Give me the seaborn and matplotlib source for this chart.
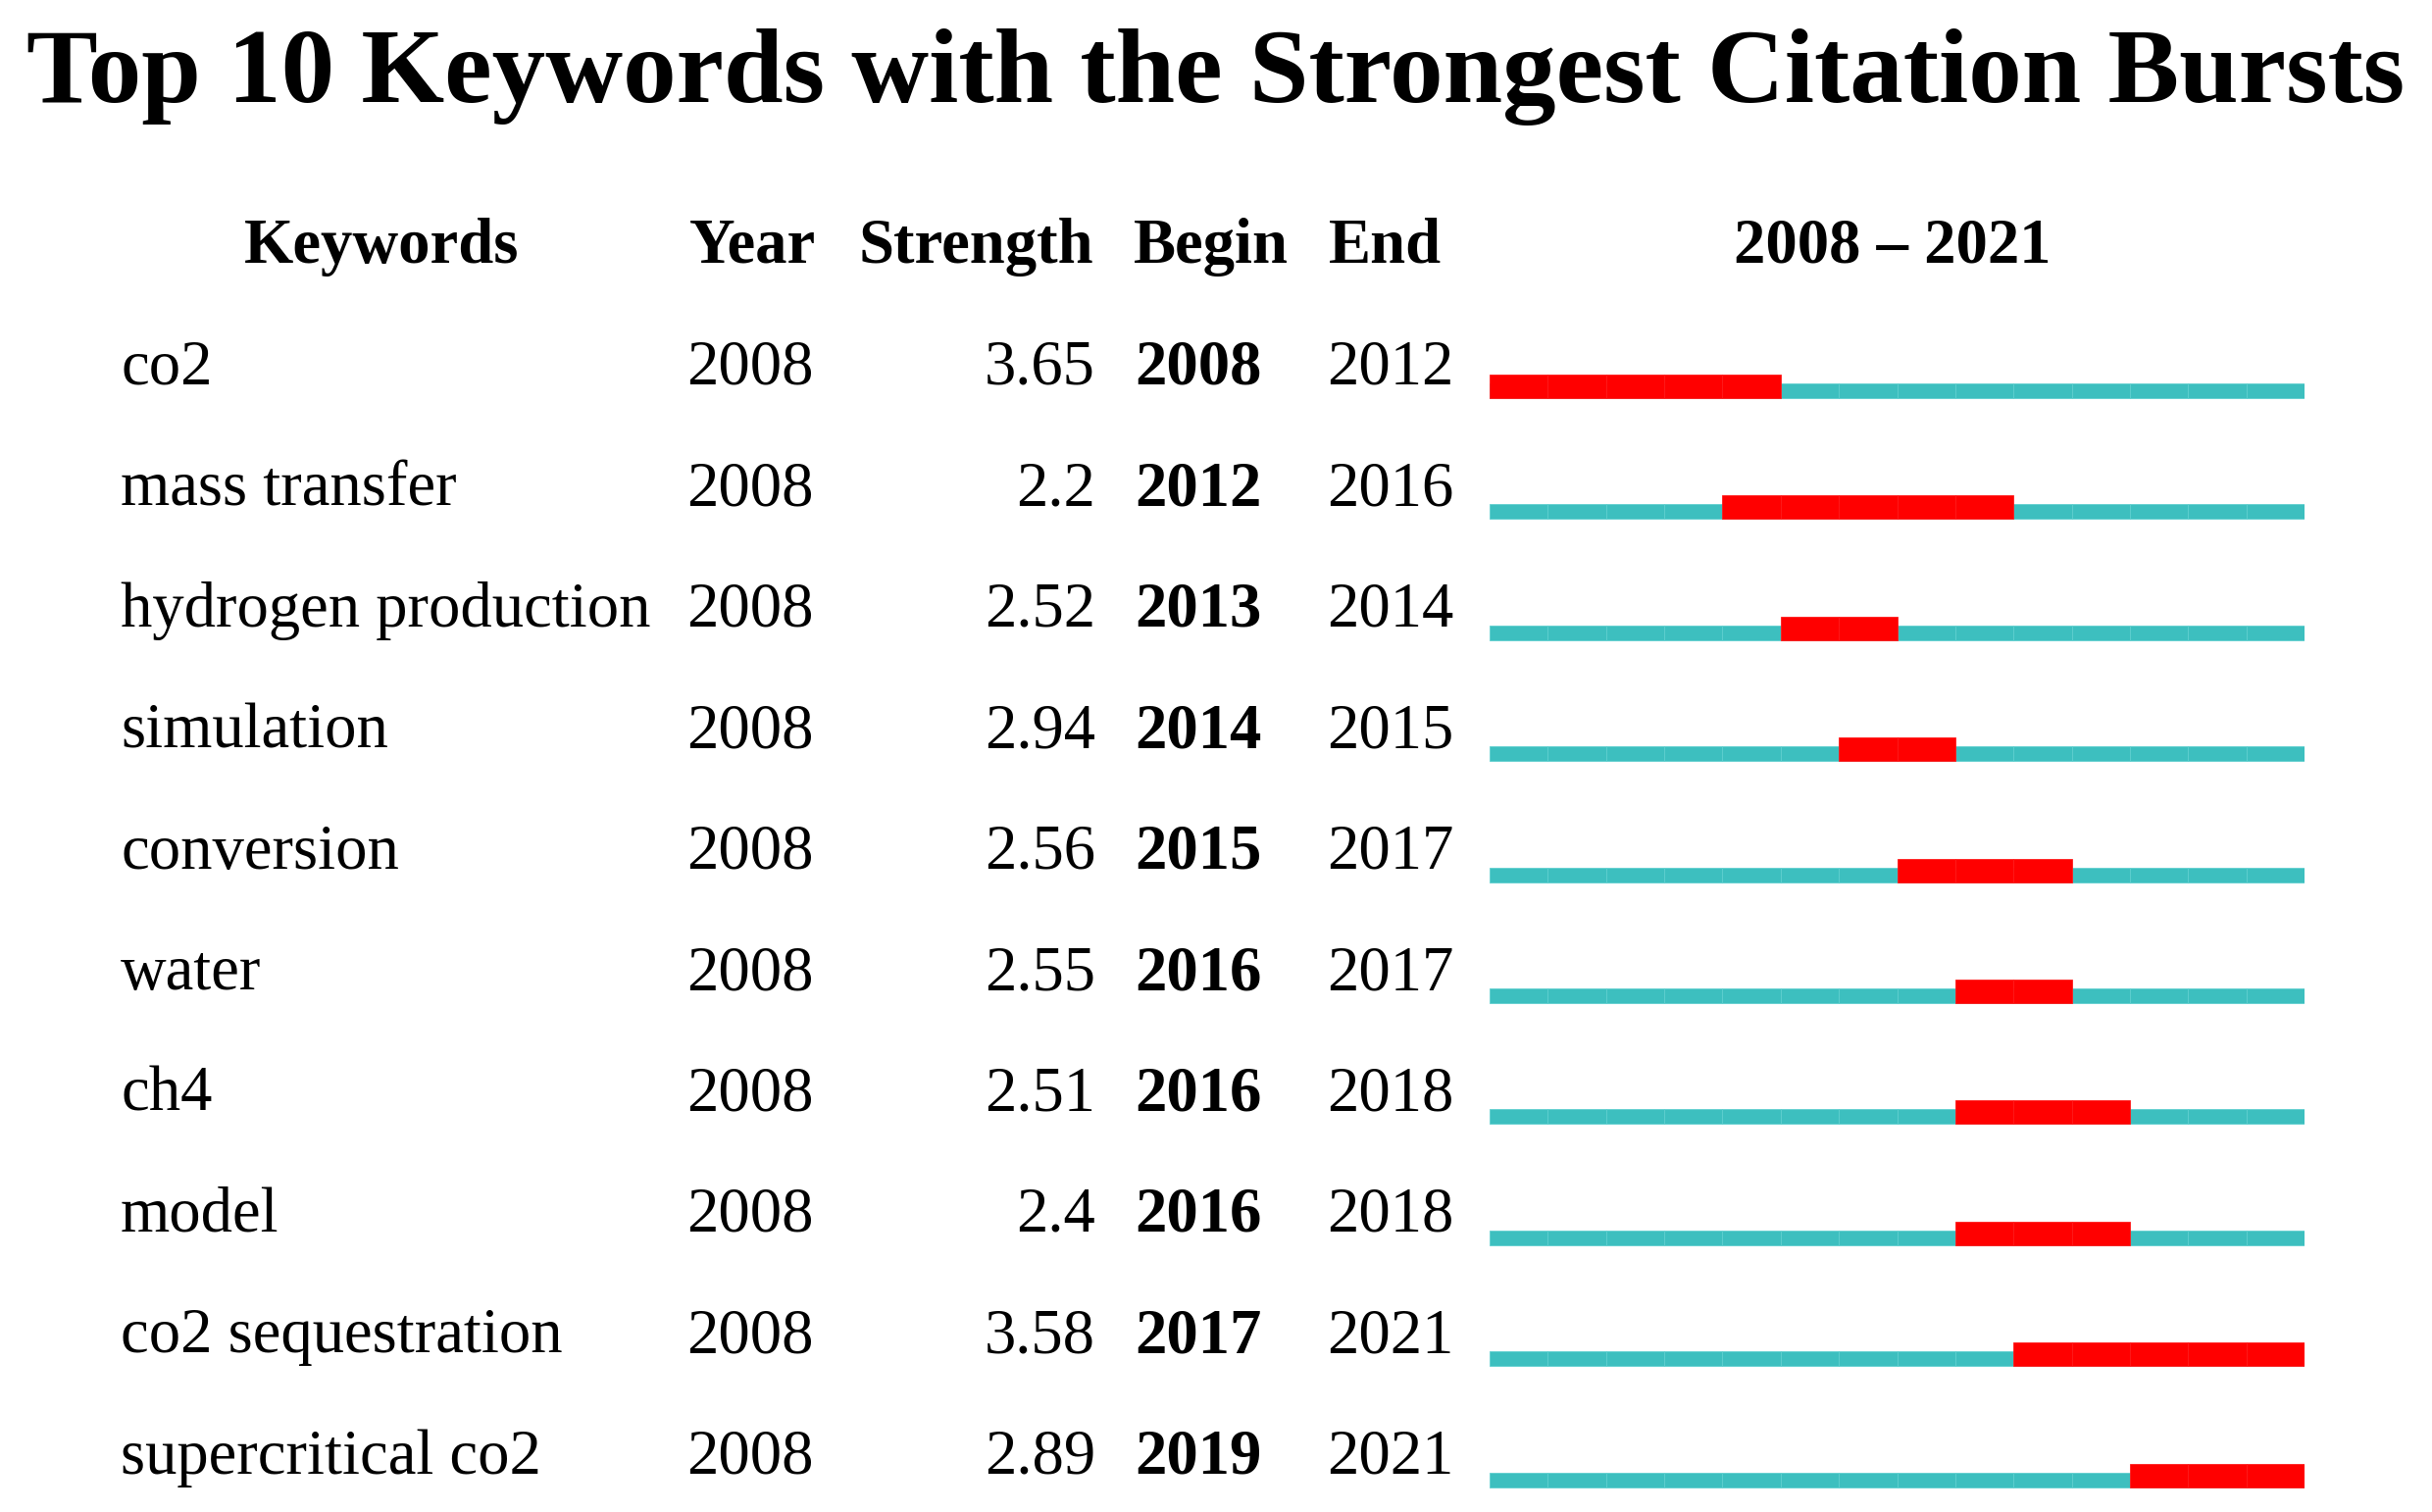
import matplotlib
matplotlib.use("Agg")
import matplotlib.pyplot as plt
import numpy as np
import seaborn as sns

# data
keywords = ["co2", "mass transfer", "hydrogen production", "simulation", "conversion",
            "water", "ch4", "model", "co2 sequestration", "supercritical co2"]
year = [2008] * 10
strength = ["3.65", "2.2", "2.52", "2.94", "2.56", "2.55", "2.51", "2.4", "3.58", "2.89"]
begin = [2008, 2012, 2013, 2014, 2015, 2016, 2016, 2016, 2017, 2019]
end = [2012, 2016, 2014, 2015, 2017, 2017, 2018, 2018, 2021, 2021]
span_start, span_end = 2008, 2021

sns.set_theme(style="white")
plt.rcParams["font.family"] = ["Liberation Serif", "DejaVu Serif"]
plt.rcParams["text.color"] = "black"

W, H = 2480, 1542
fig = plt.figure(figsize=(W / 100, H / 100), dpi=100)

def fy(p):
    # pixel from top -> figure fraction
    return 1 - p / H

def fx(p):
    return p / W

fs = 46.5
row0, step = 392, 123.4

fig.text(0.5, fy(104), "Top 10 Keywords with the Strongest Citation Bursts",
         ha="center", va="baseline", fontsize=78.5, fontweight="bold")

# header
hy = fy(268)
fig.text(fx(389), hy, "Keywords", ha="center", va="baseline", fontsize=fs, fontweight="bold")
fig.text(fx(768), hy, "Year", ha="center", va="baseline", fontsize=fs, fontweight="bold")
fig.text(fx(995), hy, "Strength", ha="center", va="baseline", fontsize=fs, fontweight="bold")
fig.text(fx(1235), hy, "Begin", ha="center", va="baseline", fontsize=fs, fontweight="bold")
fig.text(fx(1412), hy, "End", ha="center", va="baseline", fontsize=fs, fontweight="bold")
fig.text(fx(1930), hy, f"{span_start} \u2013 {span_end}", ha="center", va="baseline",
         fontsize=fs, fontweight="bold")

for i in range(len(keywords)):
    y = fy(row0 + step * i)
    fig.text(fx(123), y, keywords[i], ha="left", va="baseline", fontsize=fs)
    fig.text(fx(700), y, str(year[i]), ha="left", va="baseline", fontsize=fs)
    fig.text(fx(1117), y, strength[i], ha="right", va="baseline", fontsize=fs)
    fig.text(fx(1157), y, str(begin[i]), ha="left", va="baseline", fontsize=fs, fontweight="bold")
    fig.text(fx(1353), y, str(end[i]), ha="left", va="baseline", fontsize=fs)

# timeline axes: x in years, y in rows (row i bar bottom at pixel 406 + step*i)
x0, x1 = 1519, 2350
ax = fig.add_axes([fx(x0), 0, (x1 - x0) / W, 1])
bot0 = 406
ax.set_ylim((H - bot0) / step, (0 - bot0) / step)
ax.set_xlim(span_start, span_end + 1)
ax.axis("off")

u = 1 / step
cyan_h, red_h = 15 * u, 24 * u
cells = np.arange(span_start, span_end + 1)
cyan = "#3dbfbf"
red = "#ff0000"
for i in range(len(keywords)):
    ax.barh([i - cyan_h / 2] * len(cells), [1] * len(cells), left=cells, height=cyan_h,
            color=cyan, edgecolor="#5fcfcf", linewidth=0.6)
    red_cells = np.arange(begin[i], end[i] + 1)
    ax.barh([i - red_h / 2] * len(red_cells), [1] * len(red_cells), left=red_cells,
            height=red_h, color=red, edgecolor="#ff1a1a", linewidth=0.6)

fig.savefig("out.png", dpi=100)
